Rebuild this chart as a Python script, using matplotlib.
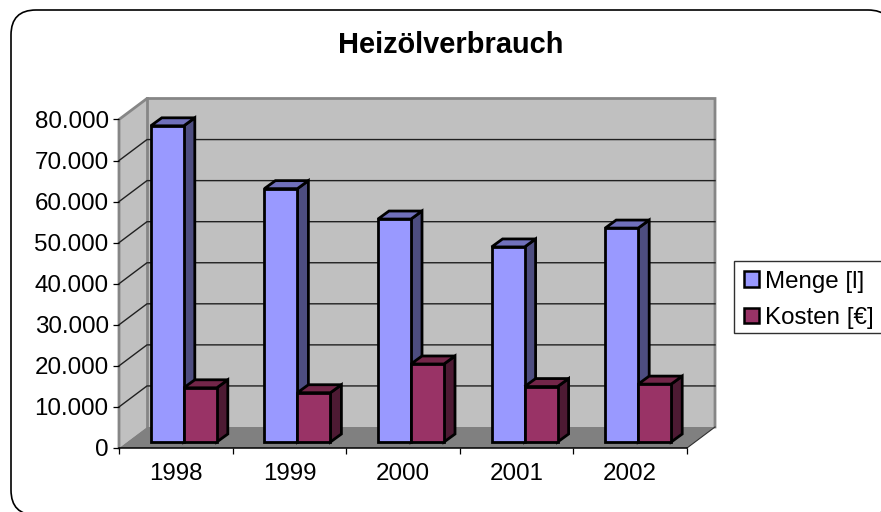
import matplotlib
matplotlib.use('Agg')
import matplotlib.pyplot as plt
from matplotlib.patches import FancyBboxPatch, Polygon, Patch, Rectangle
import numpy as np

plt.rcParams['font.family'] = ['Liberation Sans', 'DejaVu Sans']

W, H = 881, 512

# data
years = ['1998', '1999', '2000', '2001', '2002']
menge = [77000, 61700, 54300, 47500, 52100]
kosten = [13200, 12000, 19000, 13500, 14100]
y_ticks = [0, 10000, 20000, 30000, 40000, 50000, 60000, 70000, 80000]
y_labels = ['0', '10.000', '20.000', '30.000', '40.000', '50.000', '60.000', '70.000', '80.000']

fig = plt.figure(figsize=(W / 100, H / 100), dpi=100, facecolor='white')

# rounded frame goes past the right and bottom edge of the picture
bg = fig.add_axes([0, 0, 1, 1])
bg.set_xlim(0, W)
bg.set_ylim(H, 0)
bg.axis('off')
bg.add_patch(FancyBboxPatch((11, 10), 882, 505, boxstyle='round,pad=0,rounding_size=25',
                            fc='white', ec='black', lw=1.2))
# legend box, its right edge is cut off too
bg.add_patch(Rectangle((734, 261), 160, 72, fc='white', ec='#303030', lw=1.0))

# front plane of the 3d box, in pixels
left, right, bottom, top = 119, 687, 448, 119.5
ax = fig.add_axes([left / W, 1 - bottom / H, (right - left) / W, (bottom - top) / H])
ax.set_xlim(0, 5)
ax.set_ylim(0, 80000)
ax.patch.set_alpha(0)
for s in ax.spines.values():
    s.set_visible(False)

px_x = 5 / (right - left)
px_y = 80000 / (bottom - top)


def depth(dx_px, dy_px):
    return dx_px * px_x, dy_px * px_y


def poly(pts, fc, ec='none', lw=0, z=1):
    ax.add_patch(Polygon(pts, closed=True, fc=fc, ec=ec, lw=lw, zorder=z, clip_on=False,
                         joinstyle='miter'))


wx, wy = depth(28, 21)
# walls and floor
poly([(0, 0), (wx, wy), (wx, 80000 + wy), (0, 80000)], '#c0c0c0', z=1)
poly([(wx, wy), (5 + wx, wy), (5 + wx, 80000 + wy), (wx, 80000 + wy)], '#c0c0c0', z=1)
poly([(0, 0), (5, 0), (5 + wx, wy), (wx, wy)], '#808080', z=1.5)
# wall edges
ax.plot([0, 0, wx, 5 + wx, 5 + wx], [0, 80000, 80000 + wy, 80000 + wy, wy], color='#868686', lw=2,
        clip_on=False, zorder=1.2, solid_joinstyle='miter')
ax.plot([wx, wx], [wy, 80000 + wy], color='#868686', lw=2, clip_on=False, zorder=1.2)
ax.plot([5, 5 + wx], [0, wy], color='#303030', lw=0.8, clip_on=False, zorder=1.6)

# gridlines on back and side wall
for t in y_ticks[1:-1]:
    ax.plot([0, wx, 5 + wx], [t, t + wy, t + wy], color='#202020', lw=1.0, clip_on=False, zorder=1.3)

# bars
bw = 33 * px_x
gap = (1 - 2 * bw) / 2
fx, fy = depth(8, 6)
bx, by = depth(11, 8)
x = np.arange(len(years))


def bars3d(xs, vals, front, side, topc, z):
    ax.bar(xs, vals, width=bw, bottom=fy, align='edge', color=front, edgecolor='black', lw=2.0,
           zorder=z + 0.2, clip_on=False)
    for x0, v in zip(xs, vals):
        x1 = x0 + bw
        t = fy + v
        poly([(x1, fy), (x1 + bx, fy + by), (x1 + bx, t + by), (x1, t)], side, 'black', 2.0, z)
        poly([(x0, t), (x1, t), (x1 + bx, t + by), (x0 + bx, t + by)], topc, 'black', 2.0, z)


bars3d(x + gap + fx, menge, '#9999ff', '#4d4d80', '#7070bb', 2)
bars3d(x + gap + fx + bw, kosten, '#993366', '#4d1a33', '#732649', 3)

# axes
ax.plot([0, 5], [0, 0], color='black', lw=1.1, clip_on=False, zorder=1.7)
ax.set_xticks(np.arange(6))
ax.set_xticklabels([])
ax.set_xticks(x + 0.5, minor=True)
ax.set_xticklabels(years, minor=True, fontsize=17.4)
ax.tick_params(axis='x', which='major', length=4.5, width=0.9, direction='out')
ax.tick_params(axis='x', which='minor', length=0, pad=11)
ax.set_yticks(y_ticks)
ax.set_yticklabels(y_labels, fontsize=17.4)
ax.tick_params(axis='y', length=4.5, width=0.9, pad=3)

fig.text(451 / W, 1 - 45 / H, 'Heizölverbrauch', ha='center', va='center', fontsize=20.9,
         fontweight='bold')

# legend
handles = [Patch(fc='#9999ff', ec='black', lw=1.8), Patch(fc='#993366', ec='black', lw=1.8)]
leg = fig.legend(handles, ['Menge [l]', 'Kosten [€]'], loc='upper left',
                 bbox_to_anchor=(734 / W, 1 - 261 / H), fontsize=17.4, frameon=False,
                 handlelength=0.62, handleheight=0.62, handletextpad=0.25, labelspacing=0.6,
                 borderpad=0.4, borderaxespad=0)

fig.savefig('out.png', dpi=100)
